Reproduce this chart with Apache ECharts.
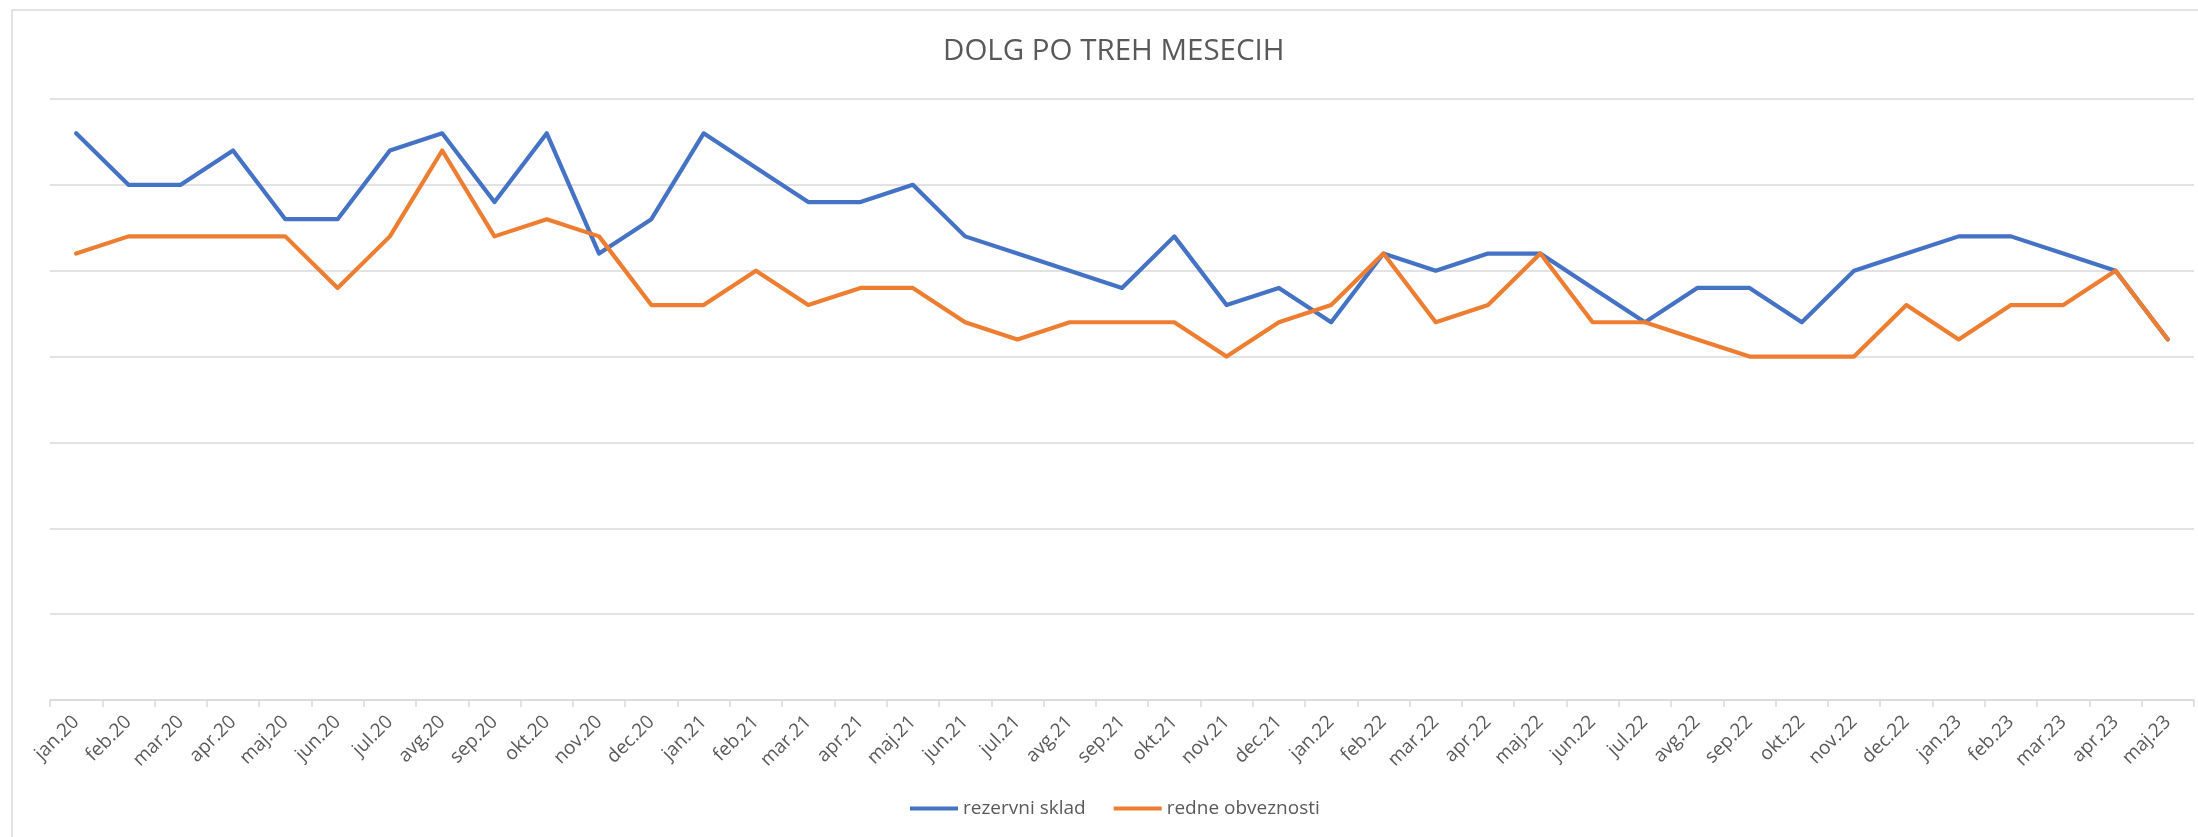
<!DOCTYPE html>
<html>
<head>
<meta charset="utf-8">
<script src="https://cdn.jsdelivr.net/npm/echarts@6/dist/echarts.min.js"></script>
<style>
html,body{margin:0;padding:0;background:#fff;}
#c{width:2198px;height:837px;}
</style>
</head>
<body>
<div id="c"></div>
<script>
const categories = [
 'jan.20','feb.20','mar.20','apr.20','maj.20','jun.20','jul.20','avg.20','sep.20','okt.20','nov.20','dec.20',
 'jan.21','feb.21','mar.21','apr.21','maj.21','jun.21','jul.21','avg.21','sep.21','okt.21','nov.21','dec.21',
 'jan.22','feb.22','mar.22','apr.22','maj.22','jun.22','jul.22','avg.22','sep.22','okt.22','nov.22','dec.22',
 'jan.23','feb.23','mar.23','apr.23','maj.23'
];
const rezervniSklad = [
 33,30,30,32,28,28,32,33,29,33,26,28,
 33,31,29,29,30,27,26,25,24,27,23,24,
 22,26,25,26,26,24,22,24,24,22,25,26,
 27,27,26,25,21
];
const redneObveznosti = [
 26,27,27,27,27,24,27,32,27,28,27,23,
 23,25,23,24,24,22,21,22,22,22,20,22,
 23,26,22,23,26,22,22,21,20,20,20,23,
 21,23,23,25,21
];
const seriesNames = ['rezervni sklad','redne obveznosti'];
const titleText = 'DOLG PO TREH MESECIH';

const chart = echarts.init(document.getElementById('c'), null, {renderer:'canvas'});
const font = '"Open Sans", "Noto Sans", sans-serif';
chart.setOption({
  animation:false,
  backgroundColor:'#ffffff',
  graphic:[{
    type:'rect', silent:true, z:-10,
    shape:{x:12,y:10,width:2400,height:1000},
    style:{fill:'none', stroke:'#d9d9d9', lineWidth:1.5}
  }],
  title:{
    text:titleText, left:938, top:32,
    padding:5,
    textStyle:{fontFamily:font, fontSize:29.5, fontWeight:'normal', color:'#595959'}
  },
  legend:{
    data:seriesNames, left:905, top:794,
    icon:'rect', itemWidth:48, itemHeight:4, itemGap:28,
    textStyle:{fontFamily:font, fontSize:19, color:'#595959'}
  },
  grid:{left:50, right:4, top:99, bottom:137, containLabel:false},
  xAxis:{
    type:'category', data:categories, boundaryGap:true,
    axisLine:{show:true, lineStyle:{color:'#d9d9d9', width:1.5}},
    axisTick:{show:true, length:7, lineStyle:{color:'#d9d9d9', width:1.5}},
    axisLabel:{interval:0, rotate:45, margin:19, color:'#595959', fontFamily:font, fontSize:19}
  },
  yAxis:{
    type:'value', min:0, max:35, interval:5,
    axisLine:{show:false}, axisTick:{show:false}, axisLabel:{show:false},
    splitLine:{show:true, lineStyle:{color:'#d9d9d9', width:1.5}}
  },
  series:[
    {name:seriesNames[0], type:'line', data:rezervniSklad, symbol:'none', smooth:false,
     itemStyle:{color:'#4472C4'},
     lineStyle:{color:'#4472C4', width:4.2, cap:'round', join:'round'}},
    {name:seriesNames[1], type:'line', data:redneObveznosti, symbol:'none', smooth:false,
     itemStyle:{color:'#ED7D31'},
     lineStyle:{color:'#ED7D31', width:4.2, cap:'round', join:'round'}}
  ]
});
</script>
</body>
</html>
